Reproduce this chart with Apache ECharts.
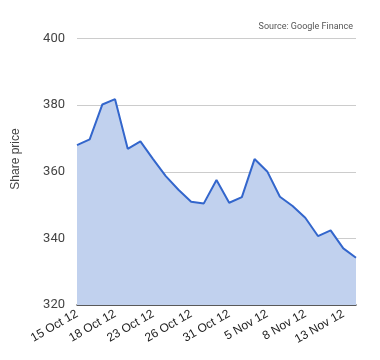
<!DOCTYPE html>
<html><head><meta charset="utf-8">
<script src="https://cdn.jsdelivr.net/npm/echarts@6/dist/echarts.min.js"></script>
<style>html,body{margin:0;padding:0;background:#fff}#c{width:380px;height:360px}</style>
</head><body><div id="c"></div>
<script>
var categories = ["15 Oct 12","16 Oct 12","17 Oct 12","18 Oct 12","19 Oct 12","22 Oct 12","23 Oct 12","24 Oct 12","25 Oct 12","26 Oct 12","29 Oct 12","30 Oct 12","31 Oct 12","1 Nov 12","2 Nov 12","5 Nov 12","6 Nov 12","7 Nov 12","8 Nov 12","9 Nov 12","12 Nov 12","13 Nov 12","14 Nov 12"];
var sharePrice = [368.0,369.7,380.2,381.8,366.9,369.1,363.8,358.7,354.6,351.0,350.5,357.5,350.7,352.4,363.8,360.1,352.5,349.7,346.2,340.7,342.4,337.0,334.2];
var yTicks = {min:320, max:400, interval:20};
var fontFam = "Roboto, 'Liberation Sans', Arial, sans-serif";
var arialFam = "'Liberation Sans', Arial, sans-serif";
var chart = echarts.init(document.getElementById('c'));
chart.setOption({
  animation:false,
  grid:{left:77,right:24,top:38.5,bottom:55},
  graphic:[
    {type:'text',right:27,top:22,style:{text:'Source: Google Finance',fontSize:9,fill:'#555',fontFamily:fontFam}},
    {type:'text',x:16,y:159,rotation:Math.PI/2,style:{text:'Share price',fontSize:12,fill:'#444',fontFamily:arialFam,align:'center',verticalAlign:'middle'}}
  ],
  xAxis:{type:'category',data:categories,boundaryGap:false,
    axisLine:{lineStyle:{color:'#333',width:1.5}},axisTick:{show:false},
    axisLabel:{interval:2,rotate:30,color:'#222',fontSize:12,fontFamily:arialFam,margin:8}},
  yAxis:{type:'value',min:yTicks.min,max:yTicks.max,interval:yTicks.interval,
    axisLine:{show:false},axisTick:{show:false},
    axisLabel:{color:'#444',fontSize:13,fontFamily:fontFam,margin:12},
    splitLine:{lineStyle:{color:'#ccc',width:1}}},
  series:[{type:'line',data:sharePrice,symbol:'none',
    lineStyle:{color:'#3366cc',width:2},
    areaStyle:{color:'#c1d1ee',opacity:1}}]
});
</script></body></html>
